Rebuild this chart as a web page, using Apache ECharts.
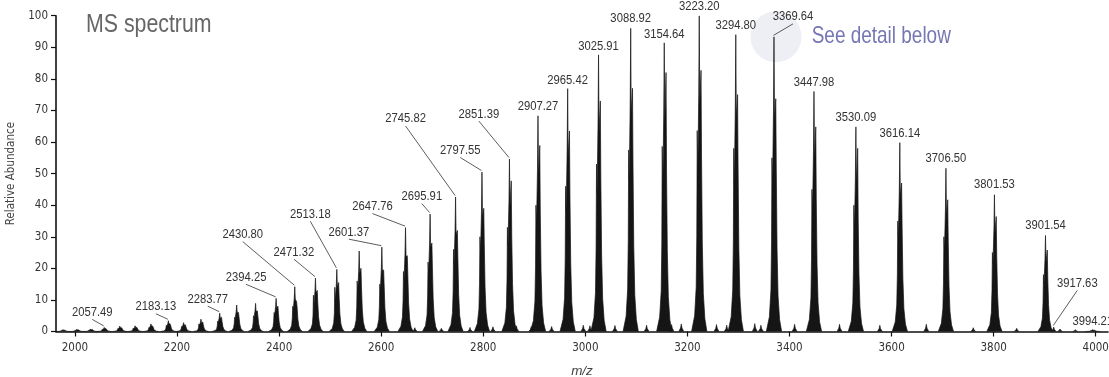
<!DOCTYPE html>
<html>
<head>
<meta charset="utf-8">
<script src="https://cdn.jsdelivr.net/npm/echarts@6/dist/echarts.min.js"></script>
<style>
  html, body { margin: 0; padding: 0; background: #ffffff; }
  #chart { width: 1109px; height: 377px; }
</style>
</head>
<body>
<div id="chart"></div>
<script>
// ---------------- DATA ----------------
// Charge-state clusters: centroid m/z, main spike, right spike, left spike (relative abundance %)
const clusterMz    = [1977, 2004, 2031, 2057.49, 2088, 2118, 2149, 2183.13, 2213, 2247, 2283.77, 2317, 2354, 2394.25, 2430.80, 2471.32, 2513.18, 2557, 2601.37, 2647.76, 2695.91, 2745.82, 2797.55, 2851.39, 2907.27, 2965.42, 3025.91, 3088.92, 3154.64, 3223.20, 3294.80, 3369.64, 3447.98, 3530.09, 3616.14, 3706.50, 3801.53, 3901.54, 3994.21];
const clusterTop   = [0.6, 0.7, 0.8, 1.3, 1.7, 1.8, 2.4, 3.4, 2.8, 3.9, 5.8, 8.4, 8.9, 10.5, 14.2, 16.9, 19.7, 25.5, 26.7, 32.9, 37.2, 42.6, 50.5, 54.6, 68.3, 76.9, 87.6, 96.0, 91.4, 100, 94.0, 93.3, 76.0, 64.8, 59.8, 51.7, 43.3, 30.4, 0.6];
const clusterRight = [0.4, 0.5, 0.6, 0.9, 1.2, 1.3, 1.7, 2.4, 2.1, 3.0, 4.5, 6.0, 6.5, 8.0, 9.5, 13.0, 15.5, 20.0, 19.5, 24.0, 28.0, 32.0, 39.0, 47.7, 58.9, 63.5, 73.0, 77.0, 82.0, 82.7, 75.0, 73.7, 64.8, 58.0, 47.0, 41.7, 36.4, 25.8, 0.4];
const clusterLeft  = [0.3, 0.35, 0.4, 0.7, 0.9, 1.0, 1.3, 2.0, 1.6, 2.4, 3.3, 4.5, 5.0, 6.0, 8.0, 11.5, 14.0, 16.0, 15.0, 19.0, 22.0, 26.0, 30.0, 33.0, 40.0, 46.0, 53.0, 57.5, 58.6, 63.6, 58.0, 55.0, 45.0, 40.0, 35.0, 30.0, 25.0, 18.0, 0.3];

// Small satellite peaks between clusters
const minorMz     = [2666, 2718, 2774, 2819, 2865, 2894, 2934, 2996, 3009, 3058, 3120, 3169, 3188, 3257, 3277, 3332, 3344, 3410, 3498, 3577, 3668, 3760, 3845, 3917.63, 3930, 3960];
const minorHeight = [1.2, 1.0, 1.3, 1.5, 1.8, 1.5, 1.6, 2.0, 1.8, 1.9, 2.0, 2.2, 2.4, 2.2, 2.0, 2.5, 2.0, 2.3, 2.3, 2.0, 2.3, 1.2, 1.0, 1.4, 0.8, 0.6];

// Annotated peaks (label text = m/z)
const labelMz     = [2057.49, 2183.13, 2283.77, 2394.25, 2430.80, 2471.32, 2513.18, 2601.37, 2647.76, 2695.91, 2745.82, 2797.55, 2851.39, 2907.27, 2965.42, 3025.91, 3088.92, 3154.64, 3223.20, 3294.80, 3369.64, 3447.98, 3530.09, 3616.14, 3706.50, 3801.53, 3901.54, 3917.63, 3994.21];
const labelHeight = [1.3, 3.4, 5.8, 10.5, 14.2, 16.9, 19.7, 26.7, 32.9, 37.2, 42.6, 50.5, 54.6, 68.3, 76.9, 87.6, 96.0, 91.4, 100, 94.0, 93.3, 76.0, 64.8, 59.8, 51.7, 43.3, 30.4, 1.4, 0.6];

// Axis ticks
const xTicks = [2000, 2200, 2400, 2600, 2800, 3000, 3200, 3400, 3600, 3800, 4000];
const yTicks = [0, 10, 20, 30, 40, 50, 60, 70, 80, 90, 100];

// ---------------- LAYOUT (pixel offsets of label text from its peak, leader flag) ----------------
const labelLayout = [
  [-12, -15, 1], [-12.5, -14, 1], [-12, -14, 1], [-30, -21, 1], [-52, -52, 1], [-21.6, -26, 1],
  [-26.5, -55, 1], [-33, -15, 1], [-33, -21, 1], [-8.3, -17.4, 1], [-50, -78, 1], [-21.7, -21.5, 1],
  [-30.6, -45, 1], [0, -9, 0], [0, -8.5, 0], [0, -8.5, 0], [0, -10, 0], [0, -8.5, 0], [0, -8.7, 0],
  [0, -9, 0], [19, -20, 1], [0, -9.4, 0], [0, -9.7, 0], [0, -9.5, 0], [0, -10, 0], [0, -10.5, 0],
  [0, -9.6, 0], [23.6, -43.7, 1], [0, -8, 0]
];

const SANS = "'Liberation Sans', Arial, sans-serif";
const COND = "'DejaVu Sans Condensed', 'DejaVu Sans', sans-serif";

const clusterData = clusterMz.map((m, i) => [m, clusterTop[i], clusterRight[i], clusterLeft[i]]);
const minorData = minorMz.map((m, i) => [m, minorHeight[i]]);
const labelData = labelMz.map((m, i) => [m, labelHeight[i], labelLayout[i][0], labelLayout[i][1], labelLayout[i][2]]);

const chart = echarts.init(document.getElementById('chart'), null, { renderer: 'canvas' });

function clusterItem(params, api) {
  const m = api.value(0), M = api.value(1), R = api.value(2), L = api.value(3);
  const prof = [
    [-15, 0], [-9, 0.05 * M], [-6, 0.14 * M], [-4.8, 0.3 * M], [-4, L], [-2.8, 0.5 * M],
    [-1, 0.75 * M], [0, M], [1, 0.72 * M], [3.5, R], [4.5, 0.55 * M], [6, 0.28 * M],
    [8, 0.12 * M], [11, 0.04 * M], [15, 0]
  ];
  const pts = prof.map(p => api.coord([m + p[0], p[1]]));
  return {
    type: 'polygon',
    shape: { points: pts },
    style: { fill: '#151515', stroke: '#151515', lineWidth: 0.7 }
  };
}

function minorItem(params, api) {
  const m = api.value(0), H = api.value(1);
  const prof = [[-5, 0], [-1.5, 0.45 * H], [0, H], [1.5, 0.45 * H], [5, 0]];
  const pts = prof.map(p => api.coord([m + p[0], p[1]]));
  return {
    type: 'polygon',
    shape: { points: pts },
    style: { fill: '#151515', stroke: '#151515', lineWidth: 0.6 }
  };
}

function labelItem(params, api) {
  const a = api.coord([api.value(0), api.value(1)]);
  const dx = api.value(2), dy = api.value(3), lead = api.value(4);
  const tx = a[0] + dx, ty = a[1] + dy;
  const children = [{
    type: 'text',
    x: tx, y: ty, scaleX: 0.9,
    style: {
      text: api.value(0).toFixed(2),
      textAlign: 'center', textVerticalAlign: 'middle',
      font: '12.5px ' + SANS, fill: '#333333'
    }
  }];
  if (lead) {
    children.push({
      type: 'line',
      shape: { x1: tx, y1: ty + 7, x2: a[0] - 0.5, y2: a[1] - 1.5 },
      style: { stroke: '#333333', lineWidth: 0.8 }
    });
  }
  return { type: 'group', children: children };
}

const option = {
  animation: false,
  backgroundColor: '#ffffff',
  grid: { left: 56, right: 1, top: 15.7, bottom: 45.5, containLabel: false, outerBoundsMode: 'none' },
  xAxis: {
    type: 'value', min: 1963, max: 4024,
    name: 'm/z', nameLocation: 'middle', nameGap: 33,
    nameTextStyle: { fontFamily: SANS, fontStyle: 'italic', fontSize: 13.5, color: '#444444' },
    axisLine: { show: true, onZero: false, lineStyle: { color: '#111111', width: 1.6 } },
    axisTick: { show: true, length: 5, customValues: xTicks, lineStyle: { color: '#111111', width: 1.2 } },
    axisLabel: { customValues: xTicks, margin: 11, fontFamily: COND, fontSize: 11.5, color: '#333333', formatter: v => String(v) },
    splitLine: { show: false }
  },
  yAxis: {
    type: 'value', min: 0, max: 100, interval: 10,
    name: 'Relative Abundance', nameLocation: 'middle', nameGap: 34, nameRotate: 90,
    nameTextStyle: { fontFamily: COND, fontSize: 11.5, color: '#444444' },
    axisLine: { show: true, lineStyle: { color: '#111111', width: 1.6 } },
    axisTick: { show: true, length: 5, lineStyle: { color: '#111111', width: 1.2 } },
    axisLabel: { margin: 8, fontFamily: COND, fontSize: 11.5, color: '#333333', formatter: v => String(v) },
    splitLine: { show: false }
  },
  graphic: [
    { type: 'circle', shape: { cx: 776, cy: 36.7, r: 25.5 }, style: { fill: '#eeeef5' }, z: 0, silent: true },
    { type: 'text', x: 86, y: 25, scaleX: 0.82, style: { text: 'MS spectrum', font: '26px ' + SANS, fill: '#666666', textVerticalAlign: 'middle' }, z: 10 },
    { type: 'text', x: 811.7, y: 36.5, scaleX: 0.79, style: { text: 'See detail below', font: '24px ' + SANS, fill: '#7676b4', textVerticalAlign: 'middle' }, z: 10 }
  ],
  series: [
    { type: 'custom', name: 'clusters', data: clusterData, encode: { x: 0, y: 1 }, renderItem: clusterItem, clip: true, z: 3, silent: true },
    { type: 'custom', name: 'minor', data: minorData, encode: { x: 0, y: 1 }, renderItem: minorItem, clip: true, z: 3, silent: true },
    { type: 'custom', name: 'labels', data: labelData, encode: { x: 0, y: 1 }, renderItem: labelItem, clip: false, z: 5, silent: true }
  ]
};
chart.setOption(option);
</script>
</body>
</html>
